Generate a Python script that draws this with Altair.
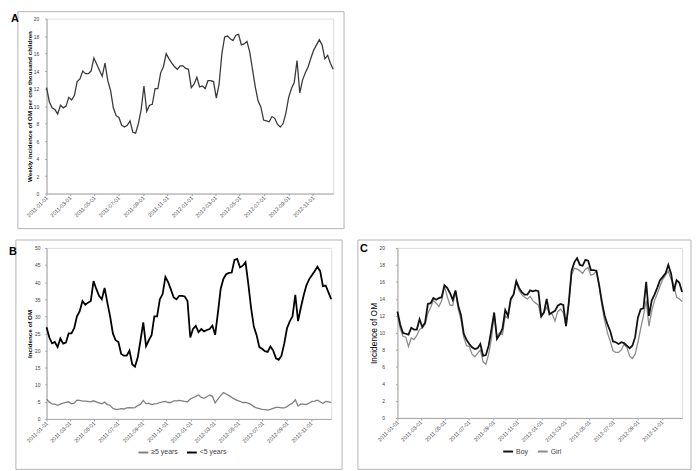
import altair as alt
import pandas as pd

# ---------------- data (weekly, starting 2011-01-01) ----------------
start_date = "2011-01-01"
domain_end = "2012-12-22"

a_total = [12.1, 10.5, 9.8, 9.6, 9.1, 10.1, 9.8, 10.0, 11.0, 10.7,
           11.2, 12.8, 13.1, 14.0, 13.7, 13.7, 14.0, 15.5, 14.8, 14.1,
           13.4, 14.9, 12.9, 11.8, 9.8, 8.9, 8.7, 7.8, 7.6, 7.8,
           8.3, 7.0, 6.9, 8.0, 9.6, 12.3, 9.4, 10.1, 10.2, 12.0,
           12.0, 13.8, 14.5, 16.0, 15.4, 14.9, 14.5, 14.2, 14.6, 14.6,
           14.3, 14.2, 12.1, 12.5, 13.3, 12.2, 12.3, 12.0, 12.9, 12.9,
           12.8, 10.9, 12.5, 16.0, 17.9, 18.0, 17.7, 17.5, 18.1, 18.2,
           17.0, 17.1, 17.4, 16.2, 14.2, 12.2, 10.6, 9.9, 8.4, 8.3,
           8.2, 8.8, 8.6, 7.9, 7.6, 8.0, 9.2, 11.0, 12.0, 12.7,
           15.2, 11.5, 13.0, 13.8, 14.5, 15.5, 16.4, 17.0, 17.6, 17.0,
           15.4, 15.8, 14.9, 14.2]

b_under5 = [26.8, 23.8, 22.1, 22.5, 21.0, 23.5, 22.0, 22.3, 25.0, 25.0,
            26.5, 30.0, 31.5, 34.5, 33.4, 34.0, 34.5, 40.3, 38.0, 36.0,
            35.0, 38.3, 34.0, 30.0, 25.0, 23.0, 22.5, 19.0, 18.5, 18.5,
            20.0, 16.0, 15.3, 18.0, 23.0, 28.2, 21.3, 23.0, 24.5, 30.0,
            30.0, 35.0, 36.5, 41.5, 40.0, 37.8, 35.5, 35.0, 36.0, 36.0,
            35.8, 34.5, 23.8, 26.3, 27.2, 25.4, 26.3, 25.6, 26.0, 26.3,
            27.3, 24.6, 31.0, 38.0, 41.0, 42.3, 42.7, 42.8, 46.5, 46.8,
            44.3, 44.8, 45.8, 39.5, 32.5, 27.0, 24.5, 21.0, 20.5, 19.8,
            19.6, 21.2, 20.0, 17.7, 17.3, 18.5, 22.0, 26.5, 28.5, 30.0,
            36.3, 28.6, 32.5, 36.0, 39.0, 40.8, 42.0, 43.2, 44.5, 43.2,
            38.8, 39.0, 37.0, 35.0]

b_over5 = [5.8, 4.9, 4.4, 4.3, 4.0, 4.3, 4.6, 4.8, 5.0, 4.4,
           4.6, 5.5, 5.4, 5.2, 5.2, 5.1, 5.0, 5.3, 5.0, 4.7,
           4.4, 4.9, 4.2, 4.0, 3.1, 2.8, 2.8, 3.0, 2.9, 3.2,
           3.3, 3.2, 3.3, 3.9, 4.3, 5.4, 4.4, 4.6, 4.2, 4.4,
           4.5, 4.8, 5.0, 5.1, 4.8, 4.8, 5.3, 5.3, 5.4, 5.3,
           5.1, 5.0, 5.8, 6.2, 6.6, 7.0, 6.3, 6.0, 6.5, 7.0,
           6.6, 4.7, 5.8, 6.8, 7.7, 7.3, 6.8, 6.3, 5.8, 5.4,
           5.1, 4.8, 4.8, 4.6, 4.2, 3.6, 3.2, 3.0, 2.8, 2.7,
           2.6, 2.8, 3.1, 3.4, 3.4, 3.2, 3.2, 3.6, 4.2, 4.6,
           5.6, 3.8, 4.4, 4.3, 4.2, 4.6, 5.1, 5.2, 5.5, 5.0,
           4.5, 5.1, 5.0, 4.8]

c_boy = [12.5, 11.0, 10.0, 9.9, 9.8, 10.6, 10.4, 10.4, 11.6, 10.7,
         11.2, 13.4, 13.5, 14.1, 13.9, 14.1, 14.2, 15.6, 15.3, 14.7,
         13.9, 15.0, 13.2, 12.1, 9.9, 9.2, 8.7, 8.3, 8.1, 8.2,
         8.7, 7.3, 7.4, 8.5, 10.4, 12.4, 9.3, 9.8, 10.5, 12.7,
         12.0, 14.0, 14.5, 16.1, 15.3, 14.8, 14.5, 14.5, 15.0, 14.9,
         15.0, 14.9, 12.0, 12.4, 14.0, 12.2, 12.4, 12.6, 13.2, 13.4,
         13.3, 10.8, 13.6, 17.3, 18.3, 18.8, 18.0, 17.9, 18.6, 18.5,
         17.4, 17.4, 17.3, 15.6, 13.6, 12.0, 11.0, 10.2, 9.0, 8.9,
         8.7, 8.9, 8.8, 8.5, 8.2, 8.5, 9.5, 11.8, 12.8, 12.9,
         16.0, 12.0, 13.8, 14.5, 15.3, 16.2, 16.6, 17.0, 18.0, 17.0,
         14.9, 16.2, 15.9, 14.8]

c_girl = [12.2, 10.5, 9.6, 9.5, 8.4, 9.4, 9.2, 9.7, 10.4, 10.6,
          11.0, 12.3, 13.0, 13.8, 13.5, 13.1, 13.8, 15.5, 14.3, 13.3,
          13.2, 14.9, 12.8, 11.5, 9.5, 8.5, 8.4, 7.5, 7.2, 7.6,
          8.0, 6.6, 6.3, 7.5, 9.3, 12.2, 9.6, 10.0, 9.8, 12.0,
          11.7, 13.9, 14.5, 16.0, 15.0, 14.5, 14.2, 14.0, 14.3, 13.8,
          13.5, 13.3, 11.8, 12.4, 13.0, 12.4, 12.2, 11.4, 12.5, 12.8,
          12.4, 10.8, 13.4, 16.8, 17.6, 17.5, 17.3, 17.0, 17.5, 17.7,
          16.8, 16.9, 17.3, 15.5, 13.2, 11.4, 10.0, 9.0, 7.9, 7.7,
          7.7, 8.0, 8.7, 8.3, 7.3, 7.0, 7.5, 8.9, 10.5, 12.0,
          13.8, 10.8, 12.6, 13.8, 14.6, 15.5, 16.3, 16.8, 17.3, 16.3,
          15.7, 14.2, 14.0, 13.7]

tick_dates = ["2011-01-01", "2011-03-01", "2011-05-01", "2011-07-01",
              "2011-09-01", "2011-11-01", "2012-01-01", "2012-03-01",
              "2012-05-01", "2012-07-01", "2012-09-01", "2012-11-01"]

title_a = "Weekly incidence of  OM per one thousand children"
title_bc = "Incidence of OM"
groups_b = ["≥5 years", "<5 years"]
groups_c = ["Boy", "Girl"]

# ---------------- styling ----------------
FONT = "Liberation Sans"
AXIS_COL = "#a6a6a6"
LABEL_COL = "#404040"
BORDER_COL = "#b4b4b4"

dates = pd.date_range(start_date, periods=len(a_total), freq="7D")


def dt(s):
    y, m, d = map(int, s.split("-"))
    return alt.DateTime(year=y, month=m, date=d)


def x_enc():
    return alt.X(
        "date:T", title=None,
        scale=alt.Scale(domain=[dt(start_date), dt(domain_end)], nice=False),
        axis=alt.Axis(values=[dt(s) for s in tick_dates], format="%Y-%m-%d",
                      labelAngle=315, labelAlign="right", labelBaseline="middle",
                      labelFontSize=5.5, labelFont=FONT, labelColor=LABEL_COL,
                      labelPadding=1, tickSize=2, tickColor=AXIS_COL,
                      domainColor=AXIS_COL, grid=False, labelOverlap=False,
                      labelFlush=False))


def y_enc(title, maxv, step, tsize, tweight, lpad, tpad):
    return alt.Y(
        "value:Q", title=title,
        scale=alt.Scale(domain=[0, maxv], nice=False),
        axis=alt.Axis(values=list(range(0, maxv + 1, step)), labelFontSize=5,
                      labelFont=FONT, labelColor=LABEL_COL, labelPadding=lpad,
                      tickSize=2, tickColor=AXIS_COL, domainColor=AXIS_COL,
                      grid=False, titleFont=FONT, titleFontSize=tsize,
                      titleFontWeight=tweight, titleColor="#000000",
                      titlePadding=tpad))


def border(x1, x2, y1, y2):
    return alt.Chart(pd.DataFrame({"k": [0]})).mark_rect(
        fillOpacity=0, stroke=BORDER_COL, strokeWidth=1
    ).encode(x=alt.value(x1), x2=alt.value(x2), y=alt.value(y1), y2=alt.value(y2))


def letter(txt, x, y):
    return alt.Chart(pd.DataFrame({"k": [0]})).mark_text(
        text=txt, align="left", baseline="top", font=FONT, fontSize=11,
        fontWeight="bold", color="#000000"
    ).encode(x=alt.value(x), y=alt.value(y))


def legend(x, y):
    return alt.Legend(title=None, orient="none", legendX=x, legendY=y,
                      direction="horizontal", symbolType="stroke",
                      symbolSize=100, symbolStrokeWidth=2, labelFont=FONT,
                      labelFontSize=7, labelColor=LABEL_COL, labelOffset=2,
                      columnPadding=5, padding=0)


# ---------------- panel A ----------------
df_a = pd.DataFrame({"date": dates, "value": a_total})
line_a = alt.Chart(df_a).mark_line(color="#3a3a3a", strokeWidth=1.3).encode(
    x=x_enc(), y=y_enc(title_a, 20, 2, 6.3, "bold", 6, 0.5))
chart_a = alt.layer(
    border(-29, 301, -7, 212.5), line_a, letter("A", -36, -5.5)
).properties(width=290, height=177)

# ---------------- panel B ----------------
color_b = dict(scale=alt.Scale(domain=groups_b, range=["#808080", "#000000"]),
               legend=legend(92, 201))
df_b_over = pd.DataFrame({"date": dates, "value": b_over5, "group": groups_b[0]})
df_b_under = pd.DataFrame({"date": dates, "value": b_under5, "group": groups_b[1]})
yb = y_enc(title_bc, 50, 5, 6.3, "bold", 4.5, 2.5)
line_b1 = alt.Chart(df_b_over).mark_line(strokeWidth=1.3).encode(
    x=x_enc(), y=yb, color=alt.Color("group:N", **color_b))
line_b2 = alt.Chart(df_b_under).mark_line(strokeWidth=1.8).encode(
    x=x_enc(), y=yb, color=alt.Color("group:N", **color_b))
chart_b = alt.layer(
    border(-31, 299, -8, 224), line_b1, line_b2, letter("B", -38, -2)
).properties(width=288, height=173)

# ---------------- panel C ----------------
color_c = dict(scale=alt.Scale(domain=groups_c, range=["#111111", "#8c8c8c"]),
               legend=legend(106, 200))
df_c_girl = pd.DataFrame({"date": dates, "value": c_girl, "sex": groups_c[1]})
df_c_boy = pd.DataFrame({"date": dates, "value": c_boy, "sex": groups_c[0]})
yc = y_enc(title_bc, 20, 2, 8.5, "normal", 11, 0.5)
line_c1 = alt.Chart(df_c_girl).mark_line(strokeWidth=1.3).encode(
    x=x_enc(), y=yc, color=alt.Color("sex:N", **color_c))
line_c2 = alt.Chart(df_c_boy).mark_line(strokeWidth=1.8).encode(
    x=x_enc(), y=yc, color=alt.Color("sex:N", **color_c))
chart_c = alt.layer(
    border(-40, 297, -8, 224), line_c1, line_c2, letter("C", -38, -5)
).properties(width=288, height=172)

row2 = alt.hconcat(chart_b, chart_c, spacing=14).resolve_scale(
    color="independent").resolve_legend(color="independent")
chart = alt.vconcat(chart_a, row2, spacing=9).resolve_scale(
    color="independent").resolve_legend(color="independent").properties(
    padding=0
).configure_view(strokeWidth=0).configure(font=FONT)

chart.save("out.html", embed_options={"renderer": "svg", "actions": False})
